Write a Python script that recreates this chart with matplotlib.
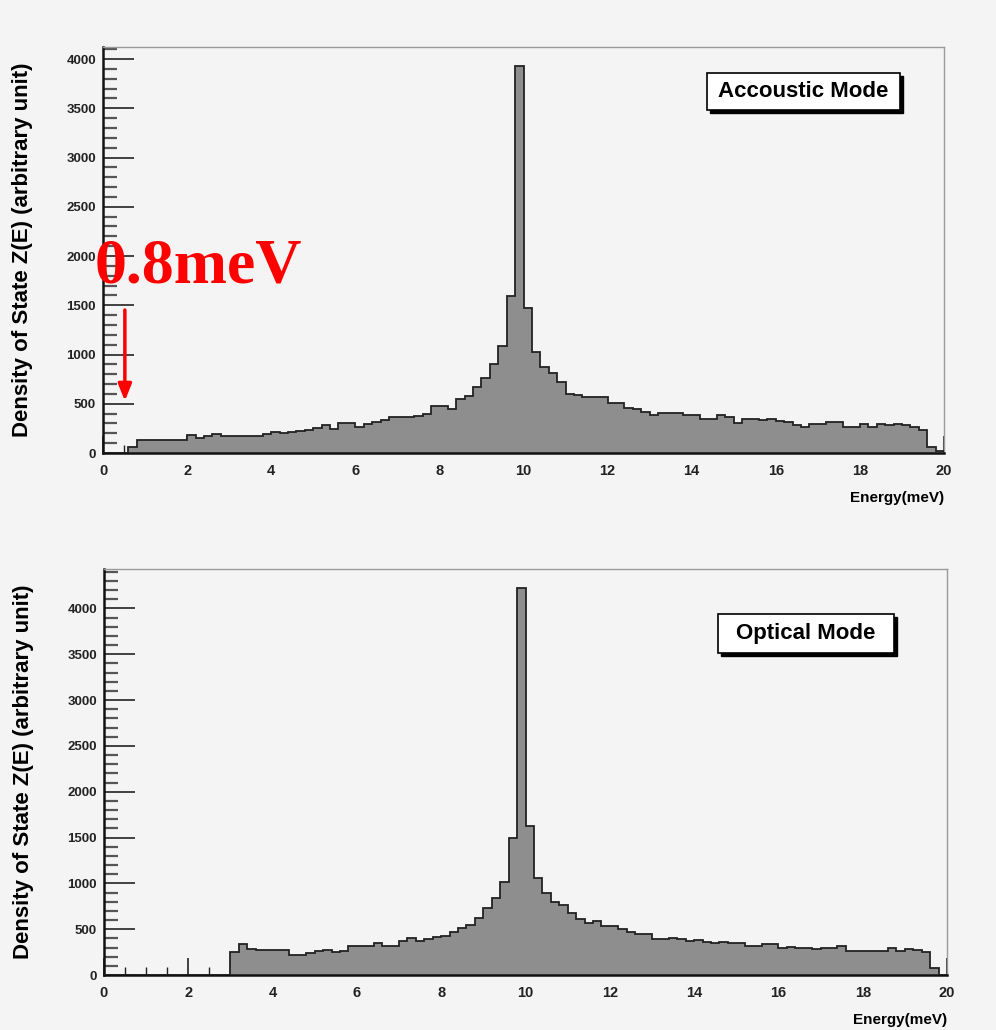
import numpy as np
import matplotlib
matplotlib.use("Agg")
import matplotlib.pyplot as plt
from matplotlib.patches import Rectangle
from matplotlib.ticker import MultipleLocator

# ---------------- data (bin width 0.2 meV, 0..20 meV) ----------------
bin_edges = np.round(np.arange(0, 20.0001, 0.2), 2)

acoustic_counts = [
    0, 0, 0, 58, 128, 130, 130, 130, 130, 130,                 # 0.0-1.8
    183, 152, 176, 193, 176, 170, 170, 170, 170, 193,          # 2.0-3.8
    210, 203, 210, 227, 237, 251, 285, 244, 305, 305,          # 4.0-5.8
    268, 295, 319, 339, 363, 363, 363, 380, 397, 481,          # 6.0-7.8
    475, 445, 545, 580, 669, 760, 906, 1089, 1591, 3926,       # 8.0-9.8
    1473, 1021, 872, 811, 716, 597, 590, 573, 573, 573,        # 10.0-11.8
    505, 505, 454, 447, 414, 390, 403, 410, 410, 390,          # 12.0-13.8
    383, 342, 342, 390, 369, 302, 346, 342, 336, 342,          # 14.0-15.8
    325, 315, 288, 268, 295, 292, 312, 312, 268, 264,          # 16.0-17.8
    292, 264, 292, 288, 295, 285, 268, 234, 64, 24,            # 18.0-19.8
]

optical_counts = [
    0, 0, 0, 0, 0, 0, 0, 0, 0, 0,                              # 0.0-1.8
    0, 0, 0, 0, 0, 247, 335, 284, 273, 273,                    # 2.0-3.8
    269, 269, 218, 218, 244, 262, 269, 247, 262, 320,          # 4.0-5.8
    320, 320, 345, 316, 316, 371, 400, 371, 393, 418,          # 6.0-7.8
    430, 465, 509, 546, 618, 727, 837, 1018, 1491, 4219,       # 8.0-9.8
    1629, 1062, 891, 800, 764, 673, 611, 564, 593, 538,        # 10.0-11.8
    538, 502, 466, 447, 447, 393, 393, 400, 393, 375,          # 12.0-13.8
    382, 356, 353, 364, 353, 345, 320, 320, 338, 338,          # 14.0-15.8
    291, 309, 291, 291, 284, 291, 291, 316, 265, 265,          # 16.0-17.8
    265, 265, 265, 291, 265, 280, 273, 255, 73, 0,             # 18.0-19.8
]

panel_labels = ["Accoustic Mode", "Optical Mode"]
x_label = "Energy(meV)"
y_label = "Density of State Z(E) (arbitrary unit)"
x_ticks = [0, 2, 4, 6, 8, 10, 12, 14, 16, 18, 20]
y_ticks = [0, 500, 1000, 1500, 2000, 2500, 3000, 3500, 4000]

# ---------------- style ----------------
BG = "#f4f4f4"
FILL = "#8e8e8e"
plt.rcParams['font.family'] = ['Liberation Sans', 'DejaVu Sans']

fig = plt.figure(figsize=(9.96, 10.30), dpi=100, facecolor=BG)

W, H = 996, 1030
def ax_rect(l, r, t, b):
    return [l / W, (H - b) / H, (r - l) / W, (b - t) / H]

axes = [fig.add_axes(ax_rect(103, 944, 47, 453)),
        fig.add_axes(ax_rect(104, 947, 569, 975))]

datasets = [acoustic_counts, optical_counts]
box_rects = [(0.718, 0.845, 0.230, 0.091), (0.728, 0.793, 0.209, 0.096)]

for ax, counts, label, (bx, by, bw, bh) in zip(axes, datasets, panel_labels, box_rects):
    ax.set_facecolor(BG)
    counts = np.asarray(counts, dtype=float)
    ax.stairs(counts, bin_edges, fill=True, color=FILL, zorder=2)
    ax.stairs(counts, bin_edges, fill=False, color="#222222", lw=1.3, zorder=3, baseline=0)
    ax.set_xlim(0, 20)
    ax.set_ylim(0, counts.max() * 1.05)
    ax.set_xticks(x_ticks)
    ax.set_yticks(y_ticks)
    ax.xaxis.set_minor_locator(MultipleLocator(0.5))
    ax.yaxis.set_minor_locator(MultipleLocator(100))
    ax.tick_params(axis='x', which='major', direction='in', length=12, width=1.2,
                   colors='#222222', labelsize=10.5, pad=8)
    ax.tick_params(axis='x', which='minor', direction='in', length=6, width=1.0, colors='#222222')
    ax.tick_params(axis='y', which='major', direction='in', length=22, width=1.2,
                   colors='#222222', labelsize=9.5, pad=5)
    ax.tick_params(axis='y', which='minor', direction='in', length=10, width=1.6, colors='#555555')
    for t in ax.get_xticklabels() + ax.get_yticklabels():
        t.set_fontweight('bold')
    for s in ['left', 'bottom']:
        ax.spines[s].set_color('#111111')
        ax.spines[s].set_linewidth(1.8)
    for s in ['top', 'right']:
        ax.spines[s].set_color('#9a9a9a')
        ax.spines[s].set_linewidth(1.0)
    ax.set_ylabel(y_label, fontsize=16, fontweight='bold')
    ax.yaxis.set_label_coords(-0.083, 0.5)
    ax.set_xlabel(x_label, fontsize=11, fontweight='bold', loc='right', labelpad=9)

    # label box with shadow
    sx, sy = 3.0 / 841, 3.0 / 406
    ax.add_patch(Rectangle((bx + sx, by - sy), bw, bh, transform=ax.transAxes,
                           facecolor='black', edgecolor='black', zorder=5))
    ax.add_patch(Rectangle((bx, by), bw, bh, transform=ax.transAxes,
                           facecolor='white', edgecolor='black', lw=1.2, zorder=6))
    ax.text(bx + bw / 2, by + bh / 2, label, transform=ax.transAxes, ha='center',
            va='center', fontsize=16, fontweight='bold', zorder=7)

# red annotation on acoustic panel
ax0 = axes[0]
ax0.text(-0.2, 1730, "0.8meV", color='red', fontsize=46, fontweight='bold',
         family=['Liberation Serif', 'DejaVu Serif'], ha='left', va='baseline', zorder=10,
         clip_on=False)
ax0.annotate("", xy=(0.52, 500), xytext=(0.52, 1480),
             arrowprops=dict(arrowstyle='-|>,head_length=1.0,head_width=0.4', color='red', lw=2.5),
             zorder=10)

fig.savefig("out.png", dpi=100, facecolor=BG)
